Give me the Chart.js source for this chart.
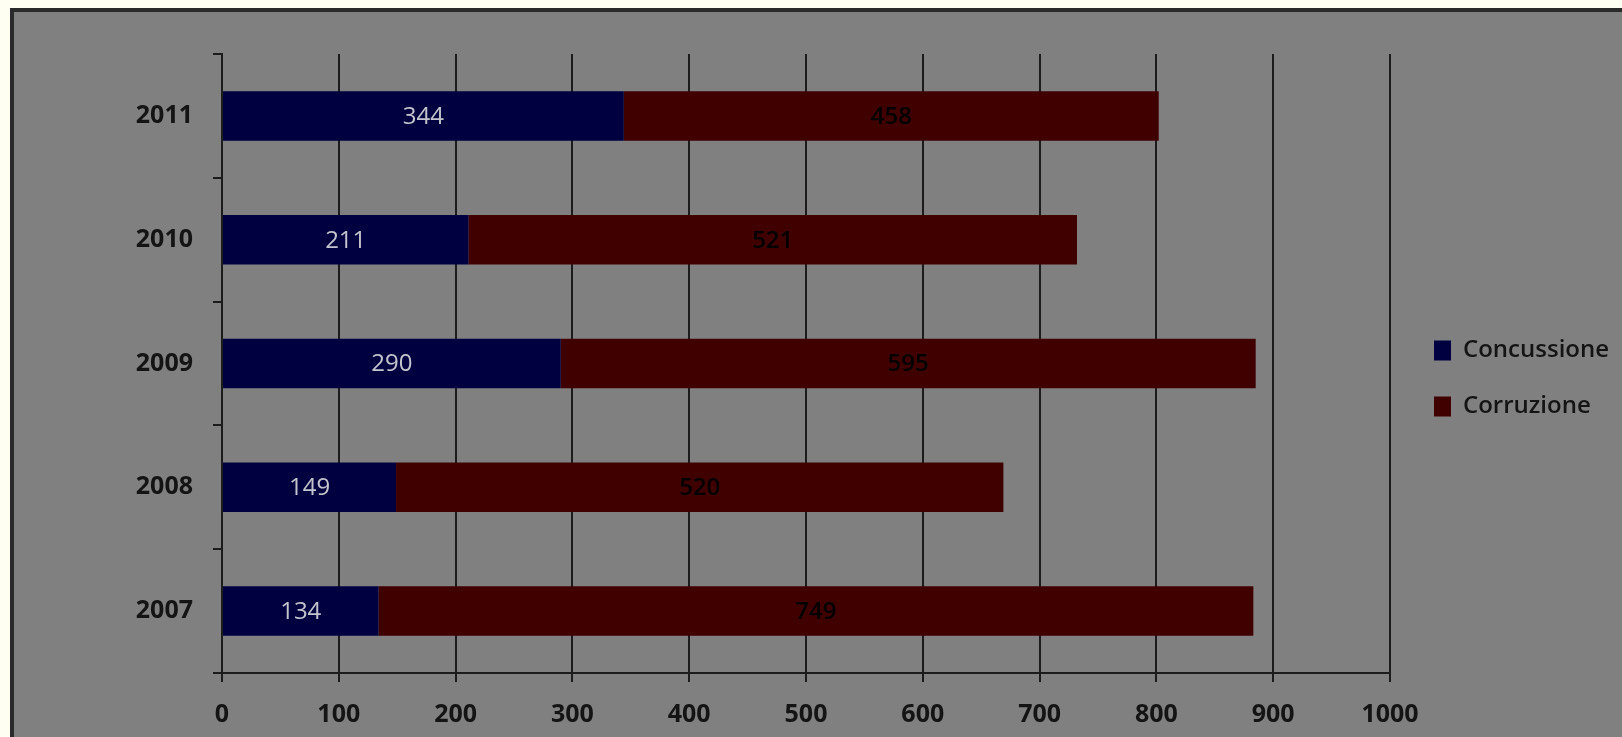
<!DOCTYPE html>
<html lang="it">
<head>
<meta charset="utf-8">
<title>Concussione e corruzione 2007-2011</title>
<script src="https://cdn.jsdelivr.net/npm/chart.js@4/dist/chart.umd.min.js"></script>
<style>
  html, body {
    margin: 0;
    padding: 0;
    width: 1622px;
    height: 737px;
    overflow: hidden;
    background: #fefef2;
  }
  .frame {
    position: absolute;
    left: 10px;
    top: 8px;
    width: 1700px;
    height: 800px;
    border: 4px solid #2a2a2a;
    background: #808080;
  }
  #chart {
    position: absolute;
    left: 0;
    top: 0;
  }
</style>
</head>
<body>
<div class="frame"></div>
<canvas id="chart" width="1622" height="737"></canvas>
<script>
"use strict";

///////////////////////////////////////
// Data

const years = ["2011", "2010", "2009", "2008", "2007"];
const concussione = [344, 211, 290, 149, 134];
const corruzione = [458, 521, 595, 520, 749];
const seriesNames = ["Concussione", "Corruzione"];

const xMin = 0;
const xMax = 1000;
const xStep = 100;

///////////////////////////////////////
// Styles

const colors = {
  concussione: "#000040",
  corruzione: "#400000",
  line: "#1c1c1c",
  text: "#141414",
  lightLabel: "#c4c4cc",
  darkLabel: "#000000",
};

const fontFamily = "'Open Sans', 'DejaVu Sans', sans-serif";
const legendFont = { family: fontFamily, size: 24, weight: "600" };
const legendBox = 17;
const legendPad = 32;

// plot should end at x = 1390, legend sits to the right of it
const plotRight = 1390;

const chartEl = document.getElementById("chart");

const measureCtx = chartEl.getContext("2d");
measureCtx.font = legendFont.weight + " " + legendFont.size + "px " + fontFamily;
const longestName = Math.max(
  ...seriesNames.map((s) => measureCtx.measureText(s).width)
);
const legendWidth = legendPad + legendBox + legendFont.size / 2 + longestName + 10;
const rightPad = Math.max(0, chartEl.width - plotRight - legendWidth);

///////////////////////////////////////
// Plugins

// value written in the middle of each bar segment
const barLabels = {
  id: "barLabels",
  afterDatasetsDraw(chart) {
    const ctx = chart.ctx;
    ctx.save();
    ctx.textAlign = "center";
    ctx.textBaseline = "middle";
    chart.data.datasets.forEach(function (ds, i) {
      const meta = chart.getDatasetMeta(i);
      ctx.font = ds.labelWeight + " 24px " + fontFamily;
      ctx.fillStyle = ds.labelColor;
      meta.data.forEach(function (bar, j) {
        const p = bar.getProps(["x", "y", "base"], true);
        ctx.fillText(ds.data[j], (p.x + p.base) / 2, p.y + 1);
      });
    });
    ctx.restore();
  },
};

// nudge the legend away from the plot, like the original
const legendShift = {
  id: "legendShift",
  afterLayout(chart) {
    const lg = chart.legend;
    lg.left += 12;
    lg.right += 12;
    lg.top -= 17;
    lg.bottom -= 17;
  },
};

///////////////////////////////////////
// Chart config

const data = {
  labels: years,
  datasets: [
    {
      label: seriesNames[0],
      data: concussione,
      backgroundColor: colors.concussione,
      labelColor: colors.lightLabel,
      labelWeight: "normal",
    },
    {
      label: seriesNames[1],
      data: corruzione,
      backgroundColor: colors.corruzione,
      labelColor: colors.darkLabel,
      labelWeight: "600",
    },
  ],
};

const config = {
  type: "bar",
  data: data,
  plugins: [barLabels, legendShift],
  options: {
    indexAxis: "y",
    responsive: false,
    animation: false,
    layout: {
      padding: { top: 54, left: 0, right: rightPad, bottom: 0 },
    },
    datasets: {
      bar: {
        barPercentage: 0.4,
        categoryPercentage: 1,
      },
    },
    scales: {
      x: {
        stacked: true,
        min: xMin,
        max: xMax,
        afterFit: function (scale) {
          scale.height = 64;
        },
        ticks: {
          stepSize: xStep,
          color: colors.text,
          padding: 18,
          font: { family: fontFamily, size: 25, weight: "bold" },
          callback: function (value) {
            return String(value);
          },
        },
        grid: {
          color: colors.line,
          lineWidth: 2,
          tickLength: 9,
        },
        border: { color: colors.line, width: 2 },
      },
      y: {
        stacked: true,
        afterFit: function (scale) {
          scale.width = 222;
        },
        ticks: {
          color: colors.text,
          padding: 20,
          font: { family: fontFamily, size: 25, weight: "bold" },
        },
        grid: {
          offset: true,
          drawOnChartArea: false,
          color: colors.line,
          lineWidth: 2,
          tickLength: 9,
        },
        border: { color: colors.line, width: 2 },
      },
    },
    plugins: {
      legend: {
        position: "right",
        labels: {
          boxWidth: legendBox,
          boxHeight: 20,
          padding: legendPad,
          color: colors.text,
          font: legendFont,
        },
      },
      tooltip: { enabled: false },
    },
  },
};

///////////////////////////////////////
// Chart display

const chart = new Chart(chartEl, config);
</script>
</body>
</html>
